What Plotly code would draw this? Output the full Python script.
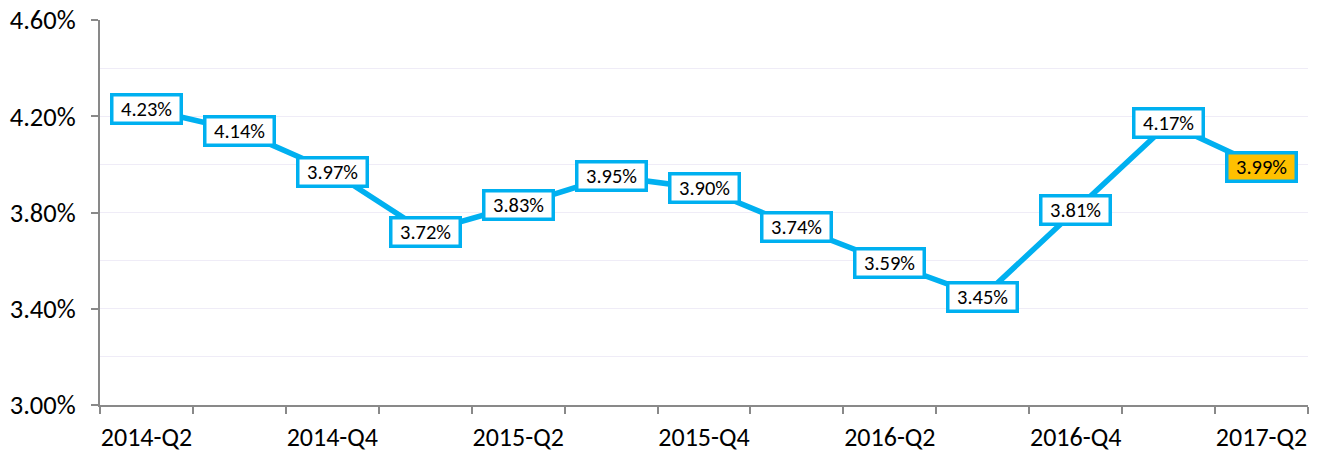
import plotly.graph_objects as go

quarters = ["2014-Q2", "2014-Q3", "2014-Q4", "2015-Q1", "2015-Q2", "2015-Q3", "2015-Q4",
            "2016-Q1", "2016-Q2", "2016-Q3", "2016-Q4", "2017-Q1", "2017-Q2"]
rates = [4.23, 4.14, 3.97, 3.72, 3.83, 3.95, 3.90, 3.74, 3.59, 3.45, 3.81, 4.17, 3.99]
y_ticks = [3.0, 3.4, 3.8, 4.2, 4.6]

FONT = "Calibri, Carlito, Lato, sans-serif"
CYAN = "#00B0F0"
AXIS = "#898989"
GRID = "#EFECF7"
idx = list(range(len(quarters)))

fig = go.Figure()
fig.add_trace(go.Scatter(x=idx, y=rates, mode="lines",
                         line=dict(color=CYAN, width=5.5), hoverinfo="skip"))

for i, (q, v) in enumerate(zip(quarters, rates)):
    last = i == len(rates) - 1
    fig.add_annotation(x=i, y=v, text=f"{v:.2f}%", showarrow=False,
                       font=dict(family=FONT, size=20.5, color="#000000"),
                       bgcolor="#FFC000" if last else "#FFFFFF",
                       bordercolor=CYAN, borderwidth=3.5, borderpad=0,
                       width=66, height=25)

fig.update_layout(
    width=1318, height=458,
    margin=dict(l=100, r=10, t=20, b=53, autoexpand=False),
    plot_bgcolor="white", paper_bgcolor="white",
    showlegend=False,
    font=dict(family=FONT, color="#000000"),
)
fig.update_xaxes(
    range=[-0.5, len(quarters) - 0.5], automargin=False,
    tickmode="array", tickvals=idx[::2], ticktext=quarters[::2],
    ticks="", showgrid=False, zeroline=False,
    showline=True, linecolor=AXIS, linewidth=2,
    tickfont=dict(size=26, family=FONT),
    ticklabelstandoff=8, ticklabeloverflow="allow",
    minor=dict(tickmode="array", tickvals=[i - 0.5 for i in range(len(quarters) + 1)],
               ticks="outside", ticklen=7, tickwidth=2, tickcolor=AXIS, showgrid=False),
)
fig.update_yaxes(
    range=[3.0, 4.6], automargin=False,
    tickmode="array", tickvals=y_ticks, ticktext=[f"{t:.2f}%" for t in y_ticks],
    ticks="outside", ticklen=7, tickwidth=2, tickcolor=AXIS,
    showgrid=True, gridcolor=GRID, gridwidth=1, zeroline=False,
    showline=True, linecolor=AXIS, linewidth=2,
    tickfont=dict(size=26.5, family=FONT),
    ticklabelstandoff=10, ticklabeloverflow="allow",
    minor=dict(dtick=0.2, tick0=3.0, showgrid=True, gridcolor=GRID, gridwidth=1, ticks=""),
)

# remove the default 8px page margin so the figure fills the window exactly
fig.write_html("out.html",
               config={"displayModeBar": False, "staticPlot": True},
               post_script="document.body.style.margin='0';document.body.style.overflow='hidden';")
